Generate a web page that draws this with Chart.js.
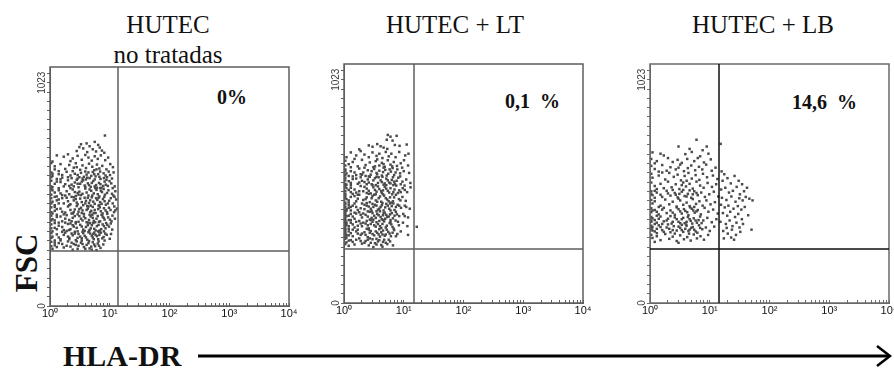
<!DOCTYPE html>
<html>
<head>
<meta charset="utf-8">
<script src="https://cdn.jsdelivr.net/npm/chart.js@4.4.0/dist/chart.umd.min.js"></script>
<style>
body{margin:0;width:894px;height:371px;overflow:hidden;background:#fff;position:relative;font-family:"Liberation Serif",serif;color:#111;}
canvas{position:absolute;}
.t{position:absolute;font-size:25px;line-height:25px;white-space:nowrap;transform:translateX(-50%);}
.p{position:absolute;font-size:20px;line-height:20px;font-weight:bold;white-space:pre;}
#fsc{position:absolute;left:26px;top:263px;font-size:31px;line-height:31px;font-weight:bold;transform:translate(-50%,-50%) rotate(-90deg);}
#hla{position:absolute;left:63px;top:341px;font-size:30px;line-height:30px;font-weight:bold;white-space:nowrap;}
</style>
</head>
<body>
<div class="t" style="left:168px;top:12px">HUTEC</div>
<div class="t" style="left:168px;top:42px">no tratadas</div>
<div class="t" style="left:455px;top:12px">HUTEC + LT</div>
<div class="t" style="left:763px;top:12px">HUTEC + LB</div>
<div class="p" style="left:217px;top:87px">0%</div>
<div class="p" style="left:505px;top:91px">0,1  %</div>
<div class="p" style="left:792px;top:92px">14,6  %</div>
<div id="fsc">FSC</div>
<div id="hla">HLA-DR</div>
<svg style="position:absolute;left:0;top:0" width="894" height="371">
  <line x1="198" y1="356" x2="889" y2="356" stroke="#000" stroke-width="3"/>
  <polyline points="877,346 890,356 877,366" fill="none" stroke="#000" stroke-width="2.5"/>
</svg>
<canvas id="c1" width="285" height="265" style="left:20px;top:57px"></canvas>
<canvas id="c2" width="285" height="265" style="left:314px;top:54px"></canvas>
<canvas id="c3" width="285" height="265" style="left:620px;top:54px"></canvas>
<script>
// HLA-DR (log) vs FSC
const untreatedPts = [
[8.3,781],[5.6,752],[4.1,745],[6.4,738],[3.3,741],
[3.1,728],[3.6,722],[4.6,732],[5.2,718],[6.8,726],[7.4,712],[2.8,710],[4.2,705],[5.9,708],[8.1,702],
[1.3,690],[1.7,684],[2.0,695],[2.4,676],[2.9,688],[3.4,670],[3.9,692],[4.4,680],[5.0,666],[5.6,686],[6.3,674],[7.1,690],[8.4,668],[1.1,662],[2.2,664],[9.4,680],
[1.05,655],[1.2,640],[1.5,650],[1.8,628],[2.1,646],[2.5,634],[2.7,654],[3.2,624],[3.5,644],[4.0,632],[4.5,652],[5.1,638],[5.5,622],[6.1,648],[6.7,630],[7.5,642],[8.8,626],[10.2,650],[11.3,636],
[1.05,612],[1.1,596],[1.4,604],[1.6,588],[1.9,615],[2.2,598],[2.6,606],[2.9,584],[3.3,610],[3.7,592],[4.1,602],[4.6,586],[5.2,614],[5.8,594],[6.4,604],[7.0,582],[7.9,608],[9.0,590],[10.1,600],[11.6,612],[1.3,582],[2.4,618],[4.9,596],[6.9,616],
[1.05,574],[1.2,560],[1.5,568],[1.7,548],[2.0,576],[2.3,556],[2.6,566],[3.0,544],[3.4,570],[3.8,552],[4.3,562],[4.8,546],[5.3,572],[5.9,554],[6.6,564],[7.3,542],[8.2,570],[9.3,550],[10.6,562],[12.1,548],[1.1,544],[2.8,578],[4.0,580],[6.1,542],[8.8,578],
[1.05,536],[1.2,520],[1.4,530],[1.6,508],[1.9,526],[2.1,512],[2.4,534],[2.7,504],[3.1,524],[3.5,514],[3.9,538],[4.4,506],[4.9,528],[5.4,516],[6.0,532],[6.7,502],[7.4,522],[8.3,510],[9.5,530],[10.9,514],[12.4,526],[1.3,502],[2.9,518],[5.7,540],[7.9,536],
[1.05,494],[1.1,478],[1.4,488],[1.7,470],[1.9,496],[2.2,466],[2.5,484],[2.8,474],[3.2,492],[3.6,462],[4.0,482],[4.5,472],[5.0,498],[5.6,468],[6.2,486],[6.9,476],[7.7,490],[8.6,464],[9.8,482],[11.2,470],[12.8,488],[1.2,462],[2.3,500],[4.2,458],[6.5,460],
[1.05,452],[1.2,436],[1.5,446],[1.8,428],[2.0,456],[2.3,424],[2.6,442],[3.0,432],[3.3,450],[3.7,422],[4.1,440],[4.7,430],[5.2,454],[5.8,426],[6.4,444],[7.1,434],[8.0,448],[9.1,422],[10.3,440],[11.8,430],[13.2,446],[1.1,424],[2.8,458],[4.4,456],[7.6,424],
[1.05,414],[1.1,398],[1.3,408],[1.6,388],[1.9,416],[2.1,394],[2.4,404],[2.7,384],[3.1,412],[3.5,392],[3.9,402],[4.3,382],[4.8,410],[5.4,390],[6.0,400],[6.6,386],[7.3,418],[8.2,396],[9.4,406],[10.7,388],[12.2,400],[1.4,382],[2.9,420],[5.1,418],[8.7,380],
[1.05,374],[1.2,358],[1.4,368],[1.7,348],[2.0,376],[2.2,352],[2.5,364],[2.9,342],[3.2,372],[3.6,350],[4.0,362],[4.5,344],[5.0,370],[5.5,354],[6.1,366],[6.8,346],[7.6,374],[8.5,356],[9.7,364],[11.0,350],[1.1,342],[2.7,378],[4.7,380],[6.4,342],
[1.05,334],[1.1,318],[1.3,328],[1.5,306],[1.8,336],[2.1,312],[2.4,324],[2.7,302],[3.0,330],[3.4,310],[3.8,322],[4.2,304],[4.7,332],[5.2,314],[5.8,326],[6.4,306],[7.1,336],[7.9,316],[8.9,326],[10.0,308],[1.2,300],[2.6,340],[4.4,338],[6.1,320],
[1.05,294],[1.2,278],[1.4,288],[1.7,268],[2.0,296],[2.2,272],[2.5,284],[2.9,262],[3.3,290],[3.7,270],[4.1,280],[4.6,264],[5.2,292],[5.7,274],[6.3,286],[7.0,266],[7.8,282],[1.1,262],[3.0,276],[5.0,258],[2.4,258],[6.0,256],
[1.1,606],[1.6,600],[2.0,590],[2.9,600],[3.5,584],[4.4,612],[5.5,604],[6.7,592],[8.5,598],
[1.3,570],[1.8,558],[2.5,548],[3.2,560],[3.6,576],[4.5,554],[5.0,564],[7.0,558],[7.8,550],[9.9,572],
[1.1,530],[1.5,516],[2.2,540],[2.6,522],[3.3,508],[4.1,520],[4.6,534],[6.3,512],[7.1,528],[9.0,518],[11.5,506],
[1.3,484],[1.6,494],[2.0,480],[2.7,490],[3.4,476],[3.8,496],[4.7,484],[5.3,478],[5.9,494],[7.3,468],[8.2,480],[10.4,494],
[1.3,444],[1.6,432],[2.2,440],[2.5,430],[3.1,444],[3.5,438],[4.3,446],[4.9,436],[5.6,440],[6.8,452],[8.5,438],[9.7,450],[12.4,438],
[1.2,392],[1.5,410],[1.8,400],[2.3,388],[2.6,412],[3.3,400],[3.7,410],[4.5,394],[5.2,404],[5.7,384],[6.3,412],[7.9,404],[10.1,396],
[1.3,352],[1.6,362],[1.9,344],[2.4,370],[2.8,358],[3.4,364],[3.8,344],[4.3,370],[4.8,356],[5.8,346],[6.5,372],[7.2,352],[9.1,372],
[1.4,314],[1.7,326],[2.0,318],[2.3,332],[2.9,312],[3.2,318],[3.6,334],[4.0,314],[5.0,322],[5.5,336],[6.7,326],[7.5,310],[8.4,332],
[1.3,270],[1.6,284],[1.9,276],[2.3,290],[2.7,280],[3.5,284],[3.9,262],[4.4,288],[4.9,272],[5.5,282],[6.6,276],
[1.05,590],[1.05,548],[1.05,510],[1.05,470],[1.05,430],[1.05,392],[1.05,356],[1.05,312],[1.05,274],
[1.2,626],[1.4,618],[2.8,636],[3.9,616],[6.0,626],[9.6,616],
[1.5,580],[2.3,586],[3.1,590],[4.2,588],[5.6,580],[8.0,586],[10.9,584],
[1.4,540],[2.1,550],[2.9,560],[3.9,546],[5.6,548],[6.9,540],[8.6,556],[11.2,540],
[1.2,500],[1.8,506],[2.5,498],[3.0,510],[4.3,496],[5.1,506],[6.5,496],[8.1,500],[12.0,500],
[1.2,454],[1.4,470],[2.1,462],[2.9,466],[3.9,470],[4.8,460],[6.7,462],[9.3,470],[11.9,456],
[1.3,418],[1.7,420],[2.4,424],[3.4,426],[4.6,418],[5.4,426],[7.6,410],[9.0,430],[11.1,414],
[1.2,380],[1.8,382],[2.2,378],[3.0,386],[4.1,384],[5.3,380],[6.9,388],[8.0,366],[10.4,378],
[1.6,340],[2.1,348],[2.6,332],[3.5,340],[4.6,348],[5.3,330],[6.7,338],[8.0,342],[10.5,330],
[1.2,290],[1.5,300],[2.1,306],[2.8,296],[3.4,300],[4.5,298],[5.4,306],[6.5,296],[8.2,300]
];

const ltPts = [
[5.4,770],[6.0,762],[7.6,766],[5.2,748],[6.5,744],
[2.6,722],[3.0,716],[3.6,728],[4.1,718],[4.6,712],[5.3,706],[7.1,724],[8.5,720],[11.2,726],[1.8,704],
[1.3,690],[1.6,676],[1.9,696],[2.2,680],[2.6,668],[3.0,690],[3.5,674],[3.9,684],[4.4,664],[5.0,692],[5.6,672],[6.2,684],[7.3,668],[8.4,692],[10.6,676],[12.0,684],[1.1,668],
[1.05,652],[1.2,636],[1.4,646],[1.7,626],[2.0,656],[2.3,632],[2.7,644],[3.1,622],[3.4,650],[3.9,630],[4.3,642],[4.8,624],[5.4,654],[6.0,634],[6.8,646],[7.7,628],[8.9,640],[10.1,654],[11.8,630],[1.5,660],[3.6,658],
[1.05,612],[1.1,594],[1.3,604],[1.6,586],[1.8,616],[2.1,598],[2.5,608],[2.8,588],[3.2,614],[3.5,596],[3.9,606],[4.3,584],[4.9,610],[5.5,592],[6.1,602],[6.9,586],[7.8,612],[8.7,594],[10.0,604],[12.3,596],[1.4,580],[2.3,582],[4.6,620],[6.5,618],
[1.05,574],[1.2,558],[1.4,568],[1.7,546],[1.9,576],[2.2,554],[2.5,566],[2.9,544],[3.3,572],[3.7,550],[4.1,562],[4.6,542],[5.1,570],[5.7,552],[6.3,564],[7.1,546],[8.1,574],[9.5,556],[11.0,566],[12.9,550],[1.1,542],[2.7,578],[4.4,578],[6.7,540],
[1.05,534],[1.2,518],[1.3,528],[1.6,506],[1.9,536],[2.1,512],[2.4,524],[2.8,502],[3.1,530],[3.5,510],[3.9,522],[4.3,504],[4.8,532],[5.4,514],[6.0,526],[6.7,508],[7.5,538],[8.4,516],[9.6,526],[11.4,508],[13.0,530],[1.4,500],[3.0,540],[5.1,540],
[1.05,494],[1.1,476],[1.3,486],[1.6,466],[1.8,496],[2.1,472],[2.4,484],[2.7,462],[3.0,490],[3.4,470],[3.8,480],[4.2,464],[4.7,492],[5.3,474],[5.9,484],[6.6,466],[7.4,496],[8.3,476],[9.5,486],[10.8,468],[1.2,460],[2.6,500],[4.5,498],[6.2,460],
[1.05,452],[1.2,436],[1.4,446],[1.7,426],[2.0,456],[2.2,430],[2.6,442],[2.9,422],[3.3,450],[3.7,428],[4.1,440],[4.6,424],[5.1,454],[5.7,432],[6.3,444],[7.0,426],[7.9,450],[9.0,436],[10.4,446],[12.6,432],[1.1,424],[2.4,458],[4.4,458],[6.7,456],
[1.05,414],[1.1,398],[1.3,408],[1.5,386],[1.8,416],[2.0,392],[2.3,404],[2.7,382],[3.0,412],[3.4,390],[3.8,402],[4.3,384],[4.8,414],[5.3,394],[5.9,406],[6.6,388],[7.4,418],[8.4,398],[9.8,408],[11.8,392],[1.2,380],[2.5,420],[4.0,420],[6.0,380],
[1.05,374],[1.1,358],[1.3,368],[1.5,346],[1.8,376],[2.0,352],[2.3,364],[2.6,342],[3.0,372],[3.4,350],[3.7,362],[4.2,344],[4.7,374],[5.2,354],[5.8,366],[6.5,348],[7.3,378],[8.3,356],[9.7,368],[11.5,352],[1.2,340],[2.8,380],[4.5,380],[6.8,340],
[1.05,334],[1.05,318],[1.2,328],[1.4,306],[1.7,336],[1.9,312],[2.2,324],[2.5,302],[2.8,330],[3.2,310],[3.6,322],[4.0,304],[4.5,332],[5.0,314],[5.5,326],[6.1,306],[6.9,334],[7.8,316],[8.9,328],[1.1,300],[2.4,340],[3.9,338],[11.8,312],
[1.05,294],[1.1,278],[1.3,288],[1.5,268],[1.8,296],[2.0,272],[2.3,284],[2.6,264],[3.0,292],[3.3,274],[3.7,282],[4.2,266],[4.7,290],[5.3,270],[5.9,282],[6.6,264],[2.8,276],[1.2,262],[4.4,258],[3.1,256],
[16.5,349],
[1.05,606],[1.5,598],[2.0,588],[2.9,604],[3.6,590],[4.5,600],[5.8,612],[7.3,598],
[1.05,562],[1.3,550],[1.6,570],[2.0,560],[2.6,552],[3.1,562],[3.5,578],[4.3,554],[5.4,562],[6.0,548],[7.6,560],
[1.05,512],[1.1,526],[1.5,520],[1.8,512],[2.2,532],[2.6,514],[3.3,518],[3.7,534],[4.5,516],[5.1,524],[5.7,506],[7.0,520],[8.9,508],
[1.05,484],[1.2,470],[1.5,490],[1.7,478],[2.3,476],[2.9,480],[3.2,496],[3.6,464],[4.0,488],[5.0,480],[5.6,466],[6.9,484],[8.8,470],
[1.05,440],[1.1,430],[1.3,440],[1.5,456],[1.9,434],[2.4,446],[2.8,432],[3.1,440],[3.5,446],[3.9,432],[4.9,438],[5.4,446],[6.0,424],[7.4,440],
[1.05,404],[1.05,390],[1.2,400],[1.4,396],[1.6,410],[2.1,410],[2.5,396],[2.9,390],[3.2,400],[3.6,408],[4.1,394],[4.5,402],[5.6,396],[6.3,412],[7.0,400],
[1.05,364],[1.05,350],[1.1,368],[1.2,352],[1.4,360],[1.7,354],[2.1,368],[2.5,356],[2.8,362],[3.2,356],[3.5,370],[4.0,352],[4.4,362],[5.0,346],[6.2,360],
[1.05,326],[1.1,312],[1.3,320],[1.6,328],[2.0,318],[2.3,312],[2.7,322],[3.4,328],[3.8,314],[4.2,324],[4.8,308],[5.8,318],
[1.4,280],[1.6,290],[2.2,276],[2.5,290],[3.5,268],[3.9,288],[5.0,276],
[1.05,630],[1.05,586],[1.05,546],[1.05,500],[1.05,460],[1.05,420],[1.05,380],[1.05,340],[1.05,304],[1.05,270],
[1.3,622],[2.2,620],[3.3,626],[4.6,636],[6.4,626],[9.4,620],
[1.2,582],[1.9,590],[2.6,580],[3.8,576],[5.2,584],[6.6,576],[8.7,580],
[1.3,540],[1.8,552],[2.4,544],[3.4,540],[4.8,548],[6.9,556],[8.9,544],[10.3,538],
[1.3,508],[1.7,496],[2.4,504],[3.4,498],[4.2,512],[6.4,498],[8.0,504],[10.4,518],
[1.2,448],[1.6,440],[2.2,450],[3.0,454],[4.3,448],[5.9,456],[8.4,446],[11.0,440],
[1.3,424],[1.5,414],[1.9,404],[2.7,418],[3.5,420],[4.6,412],[5.1,404],[7.7,406],[10.4,398],
[1.3,380],[1.6,372],[1.9,364],[2.4,376],[3.1,382],[3.9,376],[4.9,386],[6.0,370],[8.0,372],
[1.2,310],[1.4,336],[1.7,318],[2.6,336],[3.0,316],[4.4,314],[5.2,336],[6.5,322],[7.4,306],
[1.2,286],[1.9,284],[2.7,296],[3.5,294],[4.5,280],[5.6,290]
];

const lbPts = [
[6.0,748],[3.0,717],[8.9,717],[1.1,690],[1.5,684],[1.7,676],[3.9,682],[5.0,692],[6.9,672],[9.5,684],[7.6,700],[4.6,706],
[1.05,660],[1.3,650],[2.0,664],[2.4,646],[2.9,656],[3.4,642],[4.2,660],[5.5,650],[6.3,664],[8.0,644],[10.4,658],[1.2,640],
[1.05,628],[1.2,614],[1.6,632],[1.9,606],[2.2,622],[2.7,612],[3.2,634],[3.7,604],[4.3,618],[4.9,630],[5.7,608],[6.6,624],[7.5,612],[8.7,634],[10.8,606],[12.5,620],[1.4,602],[3.0,620],
[1.05,592],[1.1,574],[1.4,584],[1.8,566],[2.1,596],[2.5,578],[2.9,588],[3.3,562],[3.8,582],[4.4,596],[5.0,570],[5.8,586],[6.7,564],[7.7,592],[9.0,576],[11.3,584],[13.4,568],[1.6,598],[4.1,560],
[1.05,552],[1.2,536],[1.5,546],[1.7,526],[2.0,556],[2.3,530],[2.7,544],[3.1,522],[3.6,552],[4.0,534],[4.6,546],[5.2,524],[6.0,556],[6.9,538],[7.9,528],[9.2,550],[10.9,532],[12.8,544],[1.3,522],[3.4,540],
[1.05,512],[1.1,494],[1.3,506],[1.6,486],[1.9,514],[2.2,492],[2.6,504],[2.9,484],[3.4,510],[3.8,490],[4.3,500],[4.9,482],[5.5,512],[6.3,494],[7.2,506],[8.3,486],[9.8,498],[11.7,510],[1.2,482],[2.4,518],[4.6,516],[13.9,488],
[1.05,472],[1.1,456],[1.2,466],[1.5,446],[1.8,474],[2.1,452],[2.4,464],[2.8,442],[3.2,470],[3.6,450],[4.1,460],[4.6,444],[5.2,476],[5.9,454],[6.7,466],[7.6,446],[8.8,470],[10.3,452],[12.2,462],[1.4,440],[3.0,478],[5.5,440],
[1.05,434],[1.05,416],[1.2,426],[1.4,406],[1.7,436],[1.9,412],[2.2,424],[2.6,404],[3.0,430],[3.4,410],[3.9,422],[4.4,402],[5.0,432],[5.6,414],[6.3,426],[7.1,406],[8.2,436],[9.5,418],[11.4,428],[13.6,410],[1.3,400],[2.8,438],[4.7,438],
[1.05,394],[1.05,378],[1.1,388],[1.3,368],[1.5,396],[1.7,374],[2.0,386],[2.3,364],[2.6,392],[3.0,372],[3.4,384],[3.8,366],[4.3,394],[4.8,376],[5.4,388],[6.1,368],[6.9,396],[7.8,378],[9.1,390],[10.8,370],[12.9,384],[1.2,362],[2.2,398],[4.0,360],
[1.05,354],[1.05,338],[1.1,348],[1.2,328],[1.4,356],[1.6,334],[1.9,346],[2.2,324],[2.5,352],[2.8,332],[3.2,344],[3.6,326],[4.1,354],[4.6,336],[5.2,348],[5.8,328],[6.6,356],[7.5,338],[8.6,346],[10.0,330],[11.9,350],[1.3,320],[2.0,360],[3.4,358],[6.2,322],
[1.05,312],[1.1,298],[1.3,306],[1.5,288],[1.8,316],[2.1,294],[2.4,304],[2.8,284],[3.2,310],[3.7,292],[4.2,302],[4.8,286],[5.4,314],[6.1,296],[7.0,306],[8.0,290],[9.4,312],[1.2,280],[2.6,318],[4.5,318],[3.0,276],
[1.05,372],[1.2,380],[1.4,386],[1.6,362],[1.9,378],[2.4,372],[2.8,384],[3.2,366],[3.6,390],[4.1,372],[4.6,384],[5.1,364],[5.8,378],[6.5,380],[7.3,366],
[1.05,344],[1.1,332],[1.3,340],[1.5,348],[1.7,326],[2.1,340],[2.4,334],[3.0,350],[3.4,334],[3.9,340],[4.4,330],[4.9,344],[5.5,336],[6.9,344],
[1.05,500],[1.2,514],[1.5,496],[2.0,502],[2.7,496],[3.1,500],[3.6,518],[4.1,488],[5.2,498],[6.0,504],
[1.1,424],[1.3,418],[1.6,428],[2.4,414],[3.2,420],[3.7,430],[4.2,416],[5.3,424],[6.0,420],
// HLA-DR positive events
[15.2,729],[15.8,603],[17.5,590],[16.4,560],[19.8,572],[22.5,548],[26.0,582],[30.5,560],[34.8,544],
[15.5,520],[18.2,528],[21.0,506],[24.4,514],[28.2,532],[32.0,498],[37.5,512],[42.0,528],
[16.0,482],[19.0,472],[23.0,488],[27.0,464],[31.2,480],[35.5,470],[40.0,486],[46.0,478],[52.0,470],
[15.4,450],[17.8,438],[20.5,446],[25.0,432],[29.5,444],[33.8,428],[38.5,440],
[16.6,412],[19.6,400],[22.0,418],[26.5,394],[30.0,408],[34.5,384],[44.0,402],
[15.1,372],[18.6,362],[21.5,378],[24.0,352],[28.0,368],[31.5,346],[36.0,362],
[16.8,330],[20.0,318],[23.5,336],[27.5,312],[32.5,326],[50.0,336],
[17.2,296],[25.5,290],[19.2,344],[22.8,300]
];

// quadrant markers (HLA-DR, FSC) per panel
const quadX = [13.7, 14.8, 14.3];
const quadY = [250, 248, 248];
const frameColors = ['#5e5e5e', '#5e5e5e', '#6a6a6a'];
const quadColors = ['#5e5e5e', '#5e5e5e', '#111111'];

// axes
const xTickValues = [1,2,3,4,5,6,7,8,9,10,20,30,40,50,60,70,80,90,100,200,300,400,500,600,700,800,900,1000,2000,3000,4000,5000,6000,7000,8000,9000,10000];
const xMajor = [1, 10, 100, 1000, 10000];
const xMajorLabels = ['10⁰', '10¹', '10²', '10³', '10⁴'];
const yLabelValues = [0, 1023];
const yLabelTexts = ['0', '1023'];
const yTickStep = 1023 / 24;

const framePlugin = {
  id: 'frame',
  afterDatasetsDraw(chart, args, opts) {
    const ctx = chart.ctx, a = chart.chartArea;
    const x = chart.scales.x, y = chart.scales.y;
    ctx.save();
    ctx.strokeStyle = opts.color;
    ctx.lineWidth = 1.5;
    ctx.strokeRect(a.left, a.top, a.right - a.left, a.bottom - a.top);
    const qx = Math.round(x.getPixelForValue(opts.qx));
    const qy = Math.round(y.getPixelForValue(opts.qy));
    ctx.strokeStyle = opts.quad;
    ctx.beginPath();
    ctx.moveTo(qx, a.top); ctx.lineTo(qx, a.bottom);
    ctx.moveTo(a.left, qy); ctx.lineTo(a.right, qy);
    ctx.stroke();
    // rotated y tick labels
    ctx.fillStyle = '#3a3a3a';
    ctx.font = '10px "Liberation Sans"';
    ctx.textAlign = 'center';
    ctx.textBaseline = 'middle';
    yLabelValues.forEach((v, i) => {
      ctx.save();
      ctx.translate(a.left - 8, y.getPixelForValue(v));
      ctx.rotate(-Math.PI / 2);
      ctx.fillText(yLabelTexts[i], 0, 0);
      ctx.restore();
    });
    ctx.restore();
  }
};

function makeChart(id, pts, k) {
  const col = frameColors[k];
  return new Chart(document.getElementById(id), {
    type: 'scatter',
    data: {
      datasets: [{
        data: pts.map(p => ({x: p[0], y: p[1]})),
        pointStyle: 'rect',
        pointRadius: 1.75,
        pointHoverRadius: 1.75,
        backgroundColor: '#4a4a4a',
        borderWidth: 0
      }]
    },
    options: {
      responsive: false,
      animation: false,
      events: [],
      layout: {padding: {left: 0, right: 16, top: 10, bottom: 0}},
      plugins: {
        legend: {display: false},
        tooltip: {enabled: false},
        frame: {color: col, quad: quadColors[k], qx: quadX[k], qy: quadY[k]}
      },
      scales: {
        x: {
          type: 'logarithmic', min: 1, max: 10000,
          afterBuildTicks: s => { s.ticks = xTickValues.map(v => ({value: v})); },
          afterFit: s => { s.height = 16; },
          grid: {drawOnChartArea: false, drawTicks: true, tickLength: -3, color: col},
          border: {display: true, color: col},
          ticks: {
            autoSkip: false, maxRotation: 0, minRotation: 0, padding: 4,
            color: '#111', font: {family: 'Liberation Sans', size: 11},
            callback: v => { const i = xMajor.indexOf(v); return i >= 0 ? xMajorLabels[i] : ''; }
          }
        },
        y: {
          type: 'linear', min: 0, max: 1095,
          afterBuildTicks: s => { const t = []; for (let i = 0; i <= 25; i++) t.push({value: i * yTickStep}); s.ticks = t; },
          afterFit: s => { s.width = 30; },
          grid: {drawOnChartArea: false, drawTicks: true, tickLength: 3, color: col},
          border: {display: true, color: col},
          ticks: {display: false}
        }
      }
    },
    plugins: [framePlugin]
  });
}

makeChart('c1', untreatedPts, 0);
makeChart('c2', ltPts, 1);
makeChart('c3', lbPts, 2);
</script>
</body>
</html>
